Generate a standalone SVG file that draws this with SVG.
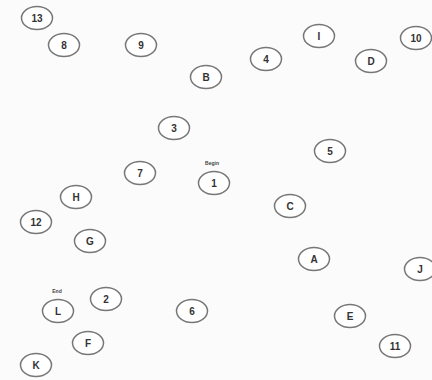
<svg xmlns="http://www.w3.org/2000/svg" width="432" height="380" viewBox="0 0 432 380">
<style>
.n ellipse{fill:#fff;stroke:#777;stroke-width:1.5}
.n text{font-family:"Liberation Sans",Arial,sans-serif;font-weight:bold;font-size:10px;fill:#333;text-anchor:middle;dominant-baseline:central}
.lbl{font-family:"Liberation Sans",Arial,sans-serif;font-weight:bold;font-size:5px;fill:#444;text-anchor:middle}
</style>
<rect width="432" height="380" fill="#fbfbfb"/>
<g id="connectors"></g>
<g id="n13" class="n"><ellipse cx="37" cy="18" rx="15.5" ry="11.5"/><text x="37" y="18">13</text></g>
<g id="n8" class="n"><ellipse cx="64" cy="45" rx="15.5" ry="11.5"/><text x="64" y="45">8</text></g>
<g id="n9" class="n"><ellipse cx="141" cy="45" rx="15.5" ry="11.5"/><text x="141" y="45">9</text></g>
<g id="nB" class="n"><ellipse cx="206" cy="77" rx="15.5" ry="11.5"/><text x="206" y="77">B</text></g>
<g id="n4" class="n"><ellipse cx="266" cy="59" rx="15.5" ry="11.5"/><text x="266" y="59">4</text></g>
<g id="nI" class="n"><ellipse cx="319" cy="36" rx="15.5" ry="11.5"/><text x="319" y="36">I</text></g>
<g id="nD" class="n"><ellipse cx="371" cy="61" rx="15.5" ry="11.5"/><text x="371" y="61">D</text></g>
<g id="n10" class="n"><ellipse cx="416" cy="38" rx="15.5" ry="11.5"/><text x="416" y="38">10</text></g>
<g id="n3" class="n"><ellipse cx="174" cy="128" rx="15.5" ry="11.5"/><text x="174" y="128">3</text></g>
<g id="n5" class="n"><ellipse cx="330" cy="151" rx="15.5" ry="11.5"/><text x="330" y="151">5</text></g>
<g id="n1" class="n"><ellipse cx="214" cy="183" rx="15.5" ry="11.5"/><text x="214" y="183">1</text></g>
<text class="lbl" x="212" y="165">Begin</text>
<g id="n7" class="n"><ellipse cx="140" cy="173" rx="15.5" ry="11.5"/><text x="140" y="173">7</text></g>
<g id="nH" class="n"><ellipse cx="76" cy="197" rx="15.5" ry="11.5"/><text x="76" y="197">H</text></g>
<g id="nC" class="n"><ellipse cx="290" cy="206" rx="15.5" ry="11.5"/><text x="290" y="206">C</text></g>
<g id="n12" class="n"><ellipse cx="36" cy="222" rx="15.5" ry="11.5"/><text x="36" y="222">12</text></g>
<g id="nG" class="n"><ellipse cx="90" cy="241" rx="15.5" ry="11.5"/><text x="90" y="241">G</text></g>
<g id="nA" class="n"><ellipse cx="314" cy="259" rx="15.5" ry="11.5"/><text x="314" y="259">A</text></g>
<g id="nJ" class="n"><ellipse cx="420" cy="269" rx="15.5" ry="11.5"/><text x="420" y="269">J</text></g>
<g id="nL" class="n"><ellipse cx="58" cy="311" rx="15.5" ry="11.5"/><text x="58" y="311">L</text></g>
<text class="lbl" x="57" y="293">End</text>
<g id="n2" class="n"><ellipse cx="106" cy="299" rx="15.5" ry="11.5"/><text x="106" y="299">2</text></g>
<g id="n6" class="n"><ellipse cx="192" cy="311" rx="15.5" ry="11.5"/><text x="192" y="311">6</text></g>
<g id="nE" class="n"><ellipse cx="350" cy="316" rx="15.5" ry="11.5"/><text x="350" y="316">E</text></g>
<g id="nF" class="n"><ellipse cx="88" cy="343" rx="15.5" ry="11.5"/><text x="88" y="343">F</text></g>
<g id="n11" class="n"><ellipse cx="395" cy="346" rx="15.5" ry="11.5"/><text x="395" y="346">11</text></g>
<g id="nK" class="n"><ellipse cx="36" cy="365" rx="15.5" ry="11.5"/><text x="36" y="365">K</text></g>
</svg>
